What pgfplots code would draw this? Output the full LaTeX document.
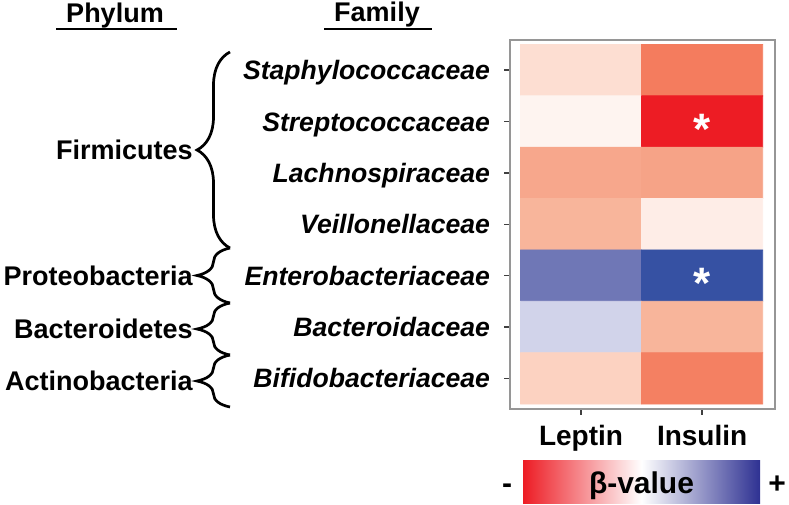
\documentclass[border=0pt]{standalone}
\usepackage{pgfplots}
\pgfplotsset{compat=1.18}
\usepackage{pgfplotstable}
\usepackage{fontspec}
\setmainfont{Liberation Sans}
\usetikzlibrary{decorations.pathreplacing}
\definecolor{cbred}{RGB}{237,28,36}
\definecolor{cbblue}{RGB}{46,49,146}
\definecolor{framegray}{RGB}{150,150,150}

% beta values: x = 0 Leptin, 1 Insulin; y = family row (0 = top)
\pgfplotstableread{
x y c
0 0 -0.15
1 0 -0.65
0 1 -0.05
1 1 -1.00
0 2 -0.42
1 2 -0.45
0 3 -0.33
1 3 -0.08
0 4 0.55
1 4 0.80
0 5 0.20
1 5 -0.33
0 6 -0.20
1 6 -0.63
}\betatable

\pgfplotstableread{
x y
1 1
1 4
}\startable

\begin{document}
\begin{tikzpicture}[font=\fontsize{13.5bp}{16bp}\selectfont\bfseries]
\useasboundingbox (0,0) rectangle (394.5bp,-252.5bp);
\begin{axis}[
  at={(255bp,-204.5bp)}, anchor=south west,
  scale only axis, width=132.5bp, height=184.5bp,
  xmin=-0.587, xmax=1.602, ymin=-0.588, ymax=6.597,
  y dir=reverse,
  axis line style={framegray, line width=1bp},
  xtick={0,1}, xticklabels={Leptin,Insulin},
  ytick={0,1,2,3,4,5,6},
  yticklabels={Staphylococcaceae,Streptococcaceae,Lachnospiraceae,Veillonellaceae,Enterobacteriaceae,Bacteroidaceae,Bifidobacteriaceae},
  tick align=outside,
  xtick pos=bottom, ytick pos=left,
  major tick length=2.8bp,
  tick style={black!75, line width=0.7bp},
  tick label style={font=\fontsize{14bp}{16bp}\selectfont\bfseries},
  yticklabel style={font=\fontsize{13.3bp}{16bp}\selectfont\bfseries\itshape, anchor=base east, inner sep=0pt, xshift=-7bp, yshift=-4.76bp},
  xticklabel style={anchor=base, inner sep=0pt, yshift=-15.5bp},
  colormap={beta}{rgb255(0pt)=(237,28,36) rgb255(35pt)=(244,124,94) rgb255(55pt)=(246,163,135) rgb255(70pt)=(249,185,160) rgb255(85pt)=(253,222,210) rgb255(100pt)=(255,255,255) rgb255(120pt)=(209,211,234) rgb255(155pt)=(111,119,182) rgb255(180pt)=(54,81,163) rgb255(200pt)=(46,49,146)},
  point meta min=-1, point meta max=1,
]
\addplot[matrix plot*, mesh/cols=2, point meta=explicit] table[x=x, y=y, meta=c] {\betatable};
\addplot[draw=none, mark=none, nodes near coords={*},
  every node near coord/.append style={anchor=base, text=white, inner sep=0pt, yshift=-11.5bp, font=\fontsize{22bp}{22bp}\selectfont\bfseries}]
  table[x=x, y=y] {\startable};
\end{axis}

% headers
\node[anchor=base] at (57.5bp,-11bp) {Phylum};
\draw[line width=1bp] (28bp,-14.5bp) -- (88.5bp,-14.5bp);
\node[anchor=base] at (188.5bp,-10.8bp) {Family};
\draw[line width=1bp] (162bp,-14.5bp) -- (216bp,-14.5bp);

% braces
\begin{scope}[line width=1.35bp, decoration={brace, amplitude=16.5bp}]
\draw[decorate] (115bp,-124bp) -- (115bp,-26bp);
\draw[decorate] (115bp,-151.5bp) -- (115bp,-124bp);
\draw[decorate] (115bp,-177.5bp) -- (115bp,-151.5bp);
\draw[decorate] (115bp,-203.5bp) -- (115bp,-177.5bp);
\end{scope}

% phylum labels
\node[anchor=base east, inner sep=0pt] at (96.5bp,-79.8bp) {Firmicutes};
\node[anchor=base east, inner sep=0pt] at (96.5bp,-142.5bp) {Proteobacteria};
\node[anchor=base east, inner sep=0pt] at (96.5bp,-169.3bp) {Bacteroidetes};
\node[anchor=base east, inner sep=0pt] at (96.5bp,-195.3bp) {Actinobacteria};

% colour key
\shade[left color=cbred, right color=cbblue, middle color=white] (261.5bp,-230bp) rectangle (380bp,-251.5bp);
\node[anchor=base, font=\fontsize{15bp}{17bp}\selectfont\bfseries] at (320.75bp,-246.5bp) {β-value};
\node[anchor=base, font=\fontsize{15bp}{17bp}\selectfont\bfseries] at (253.5bp,-246.5bp) {-};
\node[anchor=base, font=\fontsize{15bp}{17bp}\selectfont\bfseries] at (388.5bp,-246.5bp) {+};
\end{tikzpicture}
\end{document}
